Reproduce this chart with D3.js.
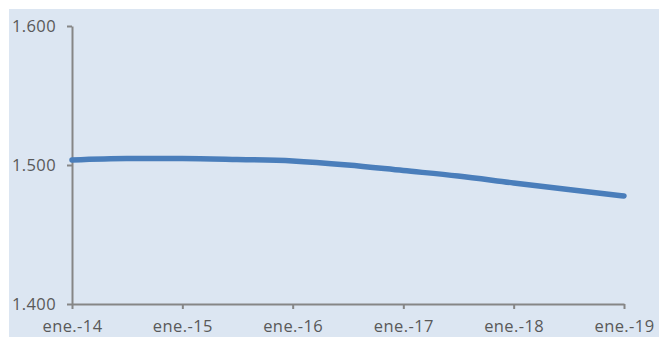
<!DOCTYPE html>
<html>
<head>
<meta charset="utf-8">
<script src="https://cdn.jsdelivr.net/npm/d3@7"></script>
<style>
  html, body { margin: 0; padding: 0; background: #ffffff; }
  svg { display: block; }
  .axis text { font-family: "Open Sans", "Noto Sans", sans-serif; font-size: 16.5px; letter-spacing: 0.4px; fill: #595959; }
</style>
</head>
<body>
<svg id="chart" width="659" height="337"></svg>
<script>
// Semi-annual series
const dates = ["2014-01", "2014-07", "2015-01", "2015-07", "2016-01", "2016-07",
               "2017-01", "2017-07", "2018-01", "2018-07", "2019-01"];
const values = [1.5036, 1.5047, 1.5047, 1.5040, 1.5029, 1.5000,
                1.4960, 1.4921, 1.4871, 1.4824, 1.4777];
const xTickDates = ["2014-01", "2015-01", "2016-01", "2017-01", "2018-01", "2019-01"];
const xTickLabels = ["ene.-14", "ene.-15", "ene.-16", "ene.-17", "ene.-18", "ene.-19"];
const yTicks = [1.4, 1.5, 1.6];
const yTickLabels = ["1.400", "1.500", "1.600"];

const parse = d3.timeParse("%Y-%m");
const data = dates.map((d, i) => ({ date: parse(d), value: values[i] }));

const svg = d3.select("#chart");
const W = 659, H = 337;
const plot = { left: 72, right: 624, top: 26, bottom: 304 };

// Panel background
svg.append("rect")
  .attr("x", 9).attr("y", 9)
  .attr("width", W - 9).attr("height", H - 9)
  .attr("fill", "#dce6f2");

const x = d3.scaleTime()
  .domain([parse(xTickDates[0]), parse(xTickDates[xTickDates.length - 1])])
  .range([plot.left, plot.right]);
const y = d3.scaleLinear().domain([1.4, 1.6]).range([plot.bottom, plot.top]);

const axisColor = "#868686";

// Y axis
const yAxis = svg.append("g")
  .attr("class", "axis")
  .attr("transform", `translate(${plot.left},0)`)
  .call(d3.axisLeft(y).tickValues(yTicks)
    .tickFormat((d, i) => yTickLabels[i])
    .tickSize(5).tickPadding(11).tickSizeOuter(0));
yAxis.selectAll("path, line").attr("stroke", axisColor).attr("stroke-width", 2);

// X axis
const xAxis = svg.append("g")
  .attr("class", "axis")
  .attr("transform", `translate(0,${plot.bottom})`)
  .call(d3.axisBottom(x).tickValues(xTickDates.map(parse))
    .tickFormat((d, i) => xTickLabels[i])
    .tickSize(5).tickPadding(11).tickSizeOuter(0));
xAxis.selectAll("path, line").attr("stroke", axisColor).attr("stroke-width", 2);

// Series line
const line = d3.line()
  .x(d => x(d.date))
  .y(d => y(d.value))
  .curve(d3.curveMonotoneX);

svg.append("path")
  .datum(data)
  .attr("d", line)
  .attr("fill", "none")
  .attr("stroke", "#4a7ebb")
  .attr("stroke-width", 5.5)
  .attr("stroke-linecap", "round")
  .attr("stroke-linejoin", "round");
</script>
</body>
</html>
